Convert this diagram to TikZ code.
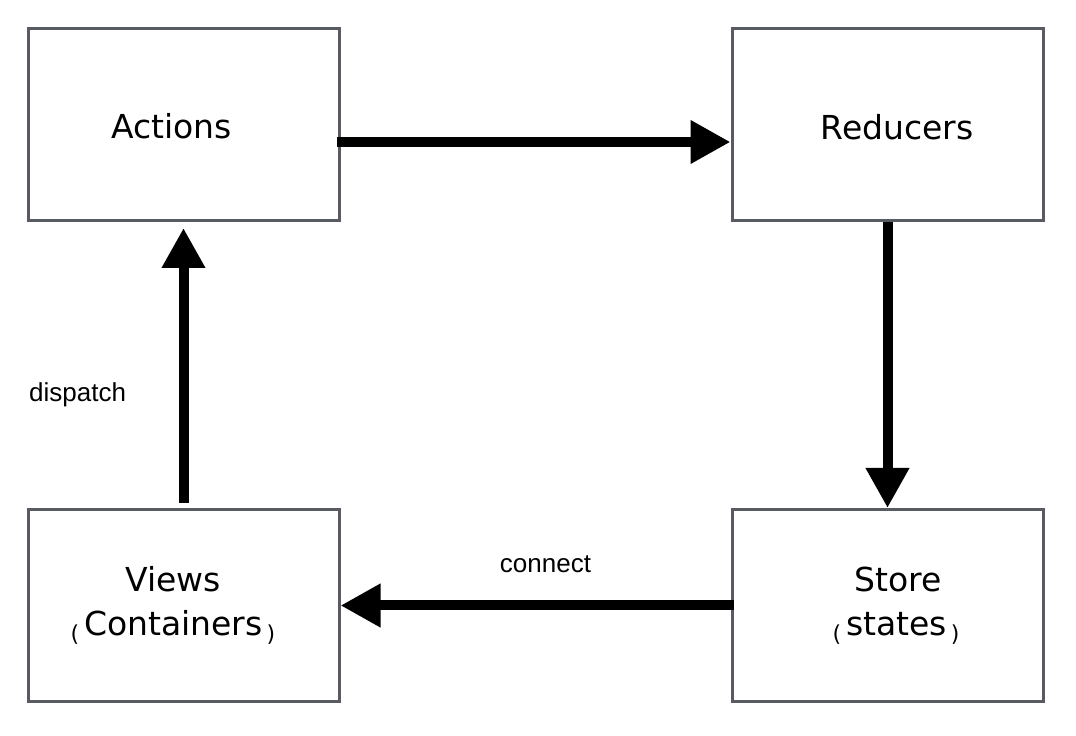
\documentclass[tikz,border=0pt]{standalone}
\usepackage{fontspec}
\usetikzlibrary{arrows.meta}
\newfontfamily\boxfont{DejaVu Sans}
\newfontfamily\labfont{Liberation Sans}
\definecolor{edgegray}{HTML}{585B61}
\newcommand\lparen{{\fontsize{22pt}{22pt}\selectfont\raisebox{-5.5pt}{(}}\kern5pt}
\newcommand\rparen{\kern4pt{\fontsize{22pt}{22pt}\selectfont\raisebox{-5.5pt}{)}}}
\begin{document}
\begin{tikzpicture}[x=1pt,y=1pt,
  box/.style={draw=edgegray, line width=3pt, rectangle, minimum width=311pt, minimum height=192pt, inner sep=0pt},
  txt/.style={anchor=base, inner sep=0pt, font=\fontsize{33pt}{40pt}\selectfont\boxfont},
  arr/.style={line width=10pt, -{Triangle[length=40pt,width=41pt]}},
  lab/.style={font=\fontsize{26pt}{30pt}\selectfont\labfont, inner sep=0pt}]
\useasboundingbox (0,0) rectangle (1076,736);
\node[box] (actions)  at (183.5,611.5) {};
\node[box] (reducers) at (887.5,611.5) {};
\node[box] (views)    at (183.5,130.5) {};
\node[box] (store)    at (888,130.5)   {};
\node[txt] (actionsT)  at (171.5,597) {Actions};
\node[txt] (reducersT) at (897,596) {Reducers};
\node[txt] (viewsT)    at (173,144) {Views};
\node[txt] (viewsU)    at (173,100) {\lparen Containers\rparen};
\node[txt] (storeT)    at (898,144) {Store};
\node[txt] (storeU)    at (896,100) {\lparen states\rparen};
\draw[arr] ([xshift=-3.5pt,yshift=-17.5pt]actions.east) -- ([yshift=-17.5pt]reducers.west);
\draw[arr] (reducers.south) -- (reducers.south |- store.north);
\draw[arr, shorten <=5pt, shorten >=6pt] (views.north) -- (actions.south);
\draw[arr] ([xshift=2.5pt]store.west) -- (views.east);
\node[lab, anchor=base west] (dispatch) at (29,334) {dispatch};
\node[lab, anchor=base] (connect) at (545.5,163) {connect};
\end{tikzpicture}
\end{document}
